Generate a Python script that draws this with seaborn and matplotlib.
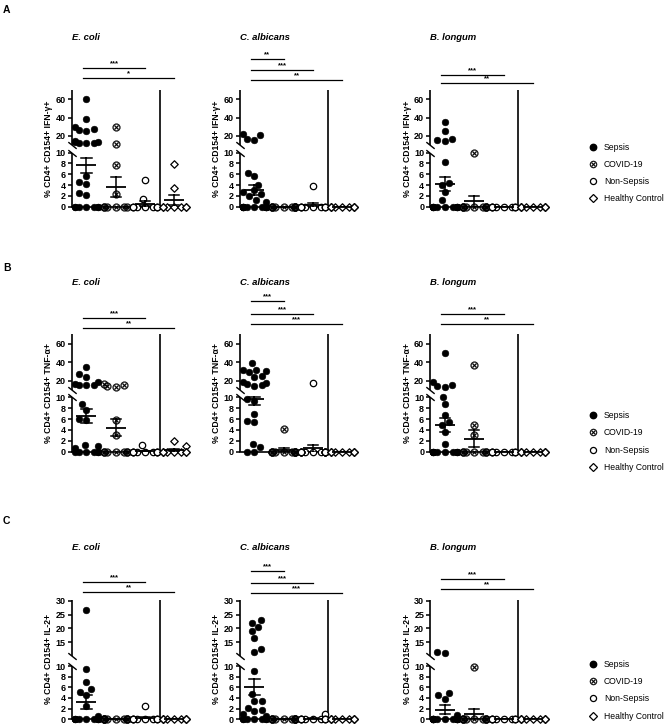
import warnings
import numpy as np
import pandas as pd
import seaborn as sns
import matplotlib.pyplot as plt
from matplotlib import transforms
from matplotlib.lines import Line2D

warnings.filterwarnings('ignore')
plt.rcParams['font.family'] = ['Liberation Sans', 'DejaVu Sans']

groups = ['Sepsis', 'COVID-19', 'Non-Sepsis', 'Healthy Control']
bugs = ['E. coli', 'C. albicans', 'B. longum']
ylabels = ['% CD4+ CD154+ IFN-γ+', '% CD4+ CD154+ TNF-α+', '% CD4+ CD154+ IL-2+']
letters = ['A', 'B', 'C']

# values, one list per group
ifng_ecoli = {
    'Sepsis': [60, 38, 30, 27, 26, 25, 14, 13.5, 13, 12.5, 12, 12, 5.6, 4.6, 4.2, 2.6, 2.1,
               0, 0, 0, 0, 0, 0, 0],
    'COVID-19': [29.8, 11.6, 7.8, 2.3, 0, 0, 0, 0, 0, 0],
    'Non-Sepsis': [4.9, 1.35, 0, 0, 0, 0, 0, 0, 0, 0, 0],
    'Healthy Control': [7.9, 3.4, 0, 0, 0, 0, 0, 0, 0],
}
ifng_calbicans = {
    'Sepsis': [22, 21, 17, 16, 6.2, 5.6, 4.1, 3.0, 2.7, 2.4, 1.9, 1.3, 0.9,
               0, 0, 0, 0, 0, 0, 0, 0, 0, 0, 0, 0, 0],
    'COVID-19': [0, 0, 0, 0, 0, 0, 0, 0, 0, 0],
    'Non-Sepsis': [3.9, 0, 0, 0, 0, 0, 0, 0, 0, 0, 0],
    'Healthy Control': [0, 0, 0, 0, 0, 0, 0, 0, 0],
}
ifng_blongum = {
    'Sepsis': [35, 25, 17, 16, 15, 8.3, 4.3, 4.0, 2.8, 1.25,
               0, 0, 0, 0, 0, 0, 0, 0, 0, 0, 0],
    'COVID-19': [10, 0, 0, 0, 0, 0, 0, 0, 0, 0],
    'Non-Sepsis': [0, 0, 0, 0, 0, 0, 0, 0, 0, 0],
    'Healthy Control': [0, 0, 0, 0, 0, 0, 0, 0, 0],
}
tnfa_ecoli = {
    'Sepsis': [35, 27, 24, 19, 16, 15, 15, 15, 8.8, 7.7, 6.1, 5.8, 1.3, 1.0, 0.6,
               0, 0, 0, 0, 0, 0],
    'COVID-19': [16, 15, 14.5, 13.5, 5.8, 3.0, 0, 0, 0, 0, 0, 0, 0],
    'Non-Sepsis': [1.3, 0, 0, 0, 0, 0, 0, 0, 0, 0, 0, 0],
    'Healthy Control': [1.9, 1.0, 0, 0, 0, 0, 0, 0, 0, 0],
}
tnfa_calbicans = {
    'Sepsis': [39, 32, 31, 30, 29, 25, 24, 18, 17, 16, 15, 14, 9.7, 9.3, 7.0, 5.6, 5.5,
               1.4, 0.9, 0, 0],
    'COVID-19': [4.2, 0, 0, 0, 0, 0, 0, 0, 0, 0, 0],
    'Non-Sepsis': [17, 0, 0, 0, 0, 0, 0, 0, 0, 0, 0, 0, 0, 0, 0, 0, 0, 0, 0, 0, 0],
    'Healthy Control': [0, 0, 0, 0, 0, 0, 0, 0, 0],
}
tnfa_blongum = {
    'Sepsis': [50, 18, 15.5, 14, 13, 10, 8.7, 6.8, 5.4, 4.9, 3.7, 1.45,
               0, 0, 0, 0, 0, 0, 0, 0, 0, 0],
    'COVID-19': [36.4, 5.0, 3.0, 0, 0, 0, 0, 0, 0, 0],
    'Non-Sepsis': [0, 0, 0, 0, 0, 0, 0, 0, 0, 0],
    'Healthy Control': [0, 0, 0, 0, 0, 0, 0, 0, 0],
}
il2_ecoli = {
    'Sepsis': [26.7, 9.5, 7.0, 5.6, 5.2, 4.5, 2.5, 0.6, 0, 0, 0, 0, 0, 0, 0, 0, 0],
    'COVID-19': [0, 0, 0, 0, 0, 0, 0, 0, 0, 0],
    'Non-Sepsis': [2.55, 0, 0, 0, 0, 0, 0, 0, 0, 0, 0],
    'Healthy Control': [0, 0, 0, 0, 0, 0, 0, 0, 0],
}
il2_calbicans = {
    'Sepsis': [23, 22, 20.5, 19, 16.5, 12.5, 11.5, 9.0, 4.7, 3.5, 3.4, 2.2, 1.8, 1.5, 1.0, 0.6,
               0, 0, 0, 0, 0, 0, 0],
    'COVID-19': [0, 0, 0, 0, 0, 0, 0, 0, 0, 0],
    'Non-Sepsis': [1.0, 0, 0, 0, 0, 0, 0, 0, 0, 0, 0],
    'Healthy Control': [0, 0, 0, 0, 0, 0, 0, 0, 0],
}
il2_blongum = {
    'Sepsis': [11.5, 11.0, 5.0, 4.5, 3.9, 0.8,
               0, 0, 0, 0, 0, 0, 0, 0, 0, 0, 0, 0, 0, 0, 0, 0],
    'COVID-19': [9.8, 0, 0, 0, 0, 0, 0, 0, 0, 0],
    'Non-Sepsis': [0, 0, 0, 0, 0, 0, 0, 0, 0, 0],
    'Healthy Control': [0, 0, 0, 0, 0, 0, 0, 0, 0],
}
panels = [[ifng_ecoli, ifng_calbicans, ifng_blongum],
          [tnfa_ecoli, tnfa_calbicans, tnfa_blongum],
          [il2_ecoli, il2_calbicans, il2_blongum]]

# significance: (group compared with Sepsis, stars), top bar first
sig = [[[(2, '***'), (3, '*')], [(1, '**'), (2, '***'), (3, '**')], [(2, '***'), (3, '**')]],
       [[(2, '***'), (3, '**')], [(1, '***'), (2, '***'), (3, '***')], [(2, '***'), (3, '**')]],
       [[(2, '***'), (3, '**')], [(1, '***'), (2, '***'), (3, '***')], [(2, '***'), (3, '**')]]]

ab_ticks = [0, 2, 4, 6, 8, 10, 20, 40, 60]
c_ticks = [0, 2, 4, 6, 8, 10, 15, 20, 25, 30]

# layout (pixels)
W, H = 669, 724
row_top = [90, 334.5, 599.5]
row_h = [116.7, 117.2, 119.8]
col_left = [71.5, 239.5, 430]
ax_w = 117.5
sig_off = [[[22.3, 12.3], [31, 20.5, 10], [15, 6.7]],
           [[16.6, 6.6], [33.4, 20.7, 10.7], [20.7, 10.7]],
           [[17.3, 7.3], [28.6, 16.6, 7], [20.7, 10.7]]]
# scale: (gap, ratio, top)
row_scale = [(1.4, 0.17, 70), (1.4, 0.17, 70), (1.9, 0.516, 30.5)]
legend_y = [173, 441.5, 690.4]
letter_y = [10, 268, 521]

styles = {
    'Sepsis': dict(marker='o', color='black', edgecolor='black', linewidth=0.4, size=4.8),
    'COVID-19': dict(marker='$\\otimes$', color='black', edgecolor='black', linewidth=0.2, size=5.6),
    'Non-Sepsis': dict(marker='o', color='white', edgecolor='black', linewidth=0.9, size=4.6),
    'Healthy Control': dict(marker='D', color='white', edgecolor='black', linewidth=0.9, size=3.8),
}


def make_scale(gap, r, brk=10):
    def fwd(y):
        y = np.asarray(y, dtype=float)
        return np.where(y <= brk, y, brk + gap + (y - brk) * r)

    def inv(v):
        v = np.asarray(v, dtype=float)
        return np.where(v <= brk, v,
                        np.where(v < brk + gap, brk, brk + (v - brk - gap) / r))
    return fwd, inv


fig = plt.figure(figsize=(W / 100, H / 100), dpi=100)

for r in range(3):
    gap, ratio, ytop = row_scale[r]
    ticks = c_ticks if r == 2 else ab_ticks
    h = row_h[r]
    for c in range(3):
        ax = fig.add_axes([col_left[c] / W, 1 - (row_top[r] + h) / H, ax_w / W, h / H])
        fwd, inv = make_scale(gap, ratio)
        ax.set_yscale('function', functions=(fwd, inv))
        ax.set_ylim(0, ytop)
        data = panels[r][c]
        df = pd.DataFrame([(g, v) for g in groups for v in data[g]], columns=['group', 'value'])
        for g in groups:
            sns.swarmplot(data=df[df['group'] == g], x='group', y='value', order=groups,
                          ax=ax, clip_on=False, zorder=3, **styles[g])
        sns.pointplot(data=df, x='group', y='value', order=groups, errorbar='se',
                      color='black', markers='_', linestyles='none', capsize=0.35,
                      markersize=15, markeredgewidth=1.3, err_kws={'linewidth': 1.1},
                      ax=ax, zorder=4)
        ax.set_xlim(-0.51, 3.5)
        ax.set_ylim(0, ytop)
        ax.set_xticks([])
        ax.set_xlabel('')
        ax.set_ylabel(ylabels[r], fontsize=6.2, fontweight='bold', labelpad=1.5)
        ax.set_yticks(ticks, labels=[str(t) for t in ticks], fontweight='bold')
        ax.minorticks_off()
        ax.tick_params(axis='y', length=3, width=1.1, pad=1.2, labelsize=6.5)
        for s in ['top', 'right', 'left']:
            ax.spines[s].set_visible(False)
        ax.spines['bottom'].set_linewidth(1.2)

        # broken left axis
        tr = transforms.blended_transform_factory(ax.transAxes, ax.transData)
        ax.plot([0, 0], [0, 10], transform=tr, color='black', lw=1.2, clip_on=False,
                solid_capstyle='butt')
        ax.plot([0, 0], [10.0001, ytop], transform=tr, color='black', lw=1.2, clip_on=False,
                solid_capstyle='butt')
        ax.plot([0, 0], [10, 10.0001], transform=tr, ls='none', marker=[(-1, 0.8), (1, -0.8)],
                markersize=6, mec='black', mew=1.0, clip_on=False)
        ax.axvline(2.5, color='black', lw=1.2)

        # significance bars
        trs = transforms.blended_transform_factory(ax.transData, ax.transAxes)
        for (j, stars), off in zip(sig[r][c], sig_off[r][c]):
            yy = 1 + off / h
            ax.plot([-0.12, j], [yy, yy], transform=trs, color='black', lw=0.9, clip_on=False)
            ax.text((j - 0.12) / 2, yy + 0.6 / h, stars, transform=trs, ha='center',
                    va='bottom', fontsize=5.5, fontweight='bold')

        ax.text(0.0, 1 + 52 / h, bugs[c], transform=ax.transAxes, ha='left', va='center',
                fontsize=6.8, fontweight='bold', fontstyle='italic')

    fig.text(3 / W, 1 - letter_y[r] / H, letters[r], fontsize=7.5, fontweight='bold',
             ha='left', va='center')

    handles = [Line2D([], [], ls='none', marker='o', color='black', markersize=4.6),
               Line2D([], [], ls='none', marker='$\\otimes$', color='black', markersize=5.2,
                      markeredgewidth=0.2),
               Line2D([], [], ls='none', marker='o', mfc='white', mec='black', mew=0.9,
                      markersize=4.4),
               Line2D([], [], ls='none', marker='D', mfc='white', mec='black', mew=0.9,
                      markersize=3.6)]
    fig.legend(handles, groups, loc='center left', bbox_to_anchor=(590 / W, 1 - legend_y[r] / H),
               frameon=False, fontsize=6.2, handlelength=0.8, handletextpad=0.8,
               labelspacing=0.95, borderpad=0, borderaxespad=0)

fig.savefig('out.png', dpi=100)
